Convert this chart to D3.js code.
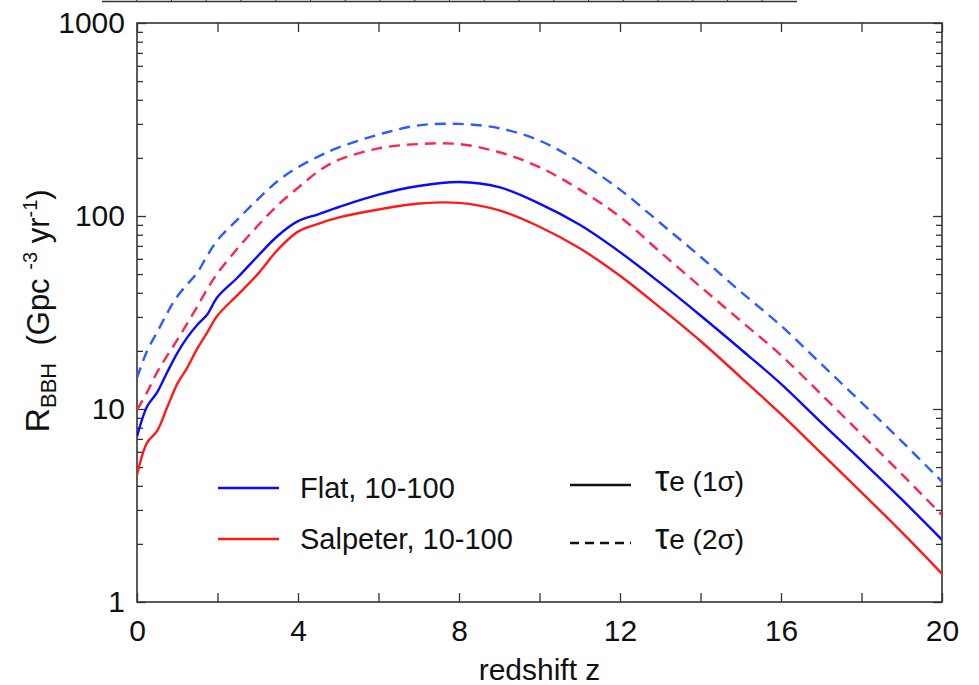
<!DOCTYPE html>
<html>
<head>
<meta charset="utf-8">
<script src="https://cdn.jsdelivr.net/npm/d3@7"></script>
<style>
  body { margin: 0; background: #fff; }
  svg text { font-family: 'Liberation Sans', Arial, Helvetica, sans-serif; fill: #111; white-space: pre; }
</style>
</head>
<body>
<div id="chart"></div>
<script>
// redshift grid shared by all four curves
const redshift = [0, 0.25, 0.5, 0.75, 1, 1.25, 1.5, 1.75, 2, 2.5, 3, 3.5, 4, 4.5, 5,
  6, 7, 8, 9, 10, 11, 12, 13, 14, 15, 16, 17, 18, 19, 20];

// R_BBH (Gpc^-3 yr^-1)
const flat1sigma = [7.2, 10.3, 12.2, 15.5, 19.5, 23.5, 27.3, 31, 38, 48, 62, 79, 94, 102, 111,
  129, 143, 150, 141, 116, 90, 65, 45, 30.5, 20.4, 13.5, 8.5, 5.4, 3.4, 2.1];
const salpeter1sigma = [4.55, 6.7, 7.7, 10.2, 13.5, 16.4, 20.6, 25, 30.5, 39, 50, 67, 83, 91, 98,
  108, 116, 117, 107, 88, 68, 49, 33.5, 22.5, 14.6, 9.4, 5.9, 3.7, 2.3, 1.4];
const flat2sigma = [14.5, 20, 25, 31.4, 38.3, 44.3, 51, 62.5, 75, 96, 122, 152, 179, 203, 226,
  264, 295, 300, 285, 246, 190, 137, 92, 61.5, 40.5, 27, 17.1, 10.8, 6.8, 4.2];
const salpeter2sigma = [9.9, 12.2, 15.5, 18.9, 22.8, 27.8, 34, 42, 50.5, 68, 89, 114, 140, 170, 195,
  224, 236, 236, 214, 179, 137, 99, 65, 43, 28.6, 19, 11.9, 7.4, 4.6, 2.82];

const xLabelTicks = [0, 4, 8, 12, 16, 20];
const xMinorTicks = [2, 6, 10, 14, 18];
const yDecades = [1, 10, 100, 1000];

const series = [
  { name: 'flat2', values: flat2sigma, color: '#2a5cff', dashed: true },
  { name: 'salp2', values: salpeter2sigma, color: '#ff2448', dashed: true },
  { name: 'flat1', values: flat1sigma, color: '#0a0aff', dashed: false },
  { name: 'salp1', values: salpeter1sigma, color: '#ff1a1a', dashed: false },
];

const config = {
  containerWidth: 979,
  containerHeight: 685,
  margin: {
    top: 23, right: 37, bottom: 83, left: 137,
  },
};
config.width = config.containerWidth - config.margin.left - config.margin.right;
config.height = config.containerHeight - config.margin.top - config.margin.bottom;

const svg = d3.select('#chart').append('svg')
  .attr('width', config.containerWidth)
  .attr('height', config.containerHeight);

// bottom edge of the panel above, cut off by the crop
const prevScale = d3.scaleLinear().domain([0, 20]).range([102, 797]);
svg.append('line')
  .attr('x1', prevScale(0))
  .attr('x2', prevScale(20))
  .attr('y1', 1.5)
  .attr('y2', 1.5)
  .attr('stroke', '#333')
  .attr('stroke-width', 1.5);
svg.selectAll('.prev-tick')
  .data(d3.range(1, 20))
  .join('line')
  .attr('class', 'prev-tick')
  .attr('x1', (d) => prevScale(d))
  .attr('x2', (d) => prevScale(d))
  .attr('y1', 0)
  .attr('y2', 2)
  .attr('stroke', '#333');

const chart = svg.append('g')
  .attr('transform', `translate(${config.margin.left},${config.margin.top})`);

const xScale = d3.scaleLinear()
  .domain([0, 20])
  .range([0, config.width]);

const yScale = d3.scaleLog()
  .domain([1, 1000])
  .range([config.height, 0]);

const yMinor = [];
[1, 10, 100].forEach((base) => {
  for (let k = 2; k <= 9; k += 1) yMinor.push(base * k);
});

// axes, all ticks point into the plot
const styleAxis = (g) => {
  g.select('.domain').remove();
  g.selectAll('.tick line').attr('stroke', '#333').attr('stroke-width', 1.3);
  g.selectAll('.tick text')
    .attr('font-size', 30)
    .attr('fill', '#111');
};

chart.append('g')
  .attr('transform', `translate(0,${config.height})`)
  .call(d3.axisBottom(xScale).tickValues(xLabelTicks).tickSize(-9).tickSizeOuter(0).tickPadding(18)
    .tickFormat(d3.format('d')))
  .call(styleAxis);
chart.append('g')
  .attr('transform', `translate(0,${config.height})`)
  .call(d3.axisBottom(xScale).tickValues(xMinorTicks).tickSize(-9).tickSizeOuter(0).tickFormat(''))
  .call(styleAxis);
chart.append('g')
  .call(d3.axisTop(xScale).tickValues(xLabelTicks.concat(xMinorTicks)).tickSize(-9).tickSizeOuter(0).tickFormat(''))
  .call(styleAxis);

chart.append('g')
  .call(d3.axisLeft(yScale).tickValues(yDecades).tickSize(-9).tickSizeOuter(0).tickPadding(12)
    .tickFormat(d3.format('d')))
  .call(styleAxis);
chart.append('g')
  .call(d3.axisLeft(yScale).tickValues(yMinor).tickSize(-6).tickSizeOuter(0).tickFormat(''))
  .call(styleAxis);
chart.append('g')
  .attr('transform', `translate(${config.width},0)`)
  .call(d3.axisRight(yScale).tickValues(yDecades).tickSize(-9).tickSizeOuter(0).tickFormat(''))
  .call(styleAxis);
chart.append('g')
  .attr('transform', `translate(${config.width},0)`)
  .call(d3.axisRight(yScale).tickValues(yMinor).tickSize(-6).tickSizeOuter(0).tickFormat(''))
  .call(styleAxis);

chart.append('rect')
  .attr('width', config.width)
  .attr('height', config.height)
  .attr('fill', 'none')
  .attr('stroke', '#333')
  .attr('stroke-width', 1.6);

// curves
const line = d3.line()
  .x((d) => xScale(d[0]))
  .y((d) => yScale(d[1]))
  .curve(d3.curveCatmullRom.alpha(0.5));

chart.append('defs').append('clipPath')
  .attr('id', 'clip')
  .append('rect')
  .attr('width', config.width)
  .attr('height', config.height);

chart.append('g')
  .attr('clip-path', 'url(#clip)')
  .selectAll('.curve')
  .data(series)
  .join('path')
  .attr('class', 'curve')
  .attr('d', (s) => line(redshift.map((z, i) => [z, s.values[i]])))
  .attr('fill', 'none')
  .attr('stroke', (s) => s.color)
  .attr('stroke-width', 2.4)
  .attr('stroke-dasharray', (s) => (s.dashed ? '11,7' : null));

// legend
const legend = svg.append('g');
const legendRows = [
  { label: 'Flat, 10-100', color: '#0a0aff', y: 488 },
  { label: 'Salpeter, 10-100', color: '#ff1a1a', y: 539 },
];
legendRows.forEach((r) => {
  legend.append('line')
    .attr('x1', 218).attr('x2', 279)
    .attr('y1', r.y).attr('y2', r.y)
    .attr('stroke', r.color)
    .attr('stroke-width', 2.4);
  legend.append('text')
    .attr('x', 300)
    .attr('y', r.y)
    .attr('dy', '0.36em')
    .attr('font-size', 29)
    .text(r.label);
});

const styleRows = [
  { label: '(1σ)', dash: null, y: 485 },
  { label: '(2σ)', dash: '9,6', y: 543 },
];
styleRows.forEach((r) => {
  legend.append('line')
    .attr('x1', 570).attr('x2', 631)
    .attr('y1', r.y).attr('y2', r.y)
    .attr('stroke', '#111')
    .attr('stroke-width', 2.4)
    .attr('stroke-dasharray', r.dash);
  const t = legend.append('text')
    .attr('x', 655)
    .attr('y', r.y)
    .attr('dy', '0.36em');
  t.append('tspan').attr('font-size', 36).text('τ');
  t.append('tspan').attr('font-size', 28).text('e ');
  t.append('tspan').attr('font-size', 28).text(r.label);
});

// axis titles
svg.append('text')
  .attr('x', config.margin.left + config.width / 2)
  .attr('y', 680)
  .attr('text-anchor', 'middle')
  .attr('font-size', 30)
  .text('redshift z');

const yTitle = svg.append('text')
  .attr('transform', 'translate(49,311) rotate(-90)')
  .attr('text-anchor', 'middle');
yTitle.append('tspan').attr('font-size', 34).text('R');
yTitle.append('tspan').attr('font-size', 22).attr('dy', 7).text('BBH');
yTitle.append('tspan').attr('font-size', 31).attr('dy', -7).text('  (Gpc ');
yTitle.append('tspan').attr('font-size', 20).attr('dy', -12).text('-3');
yTitle.append('tspan').attr('font-size', 31).attr('dy', 12).text(' yr');
yTitle.append('tspan').attr('font-size', 20).attr('dy', -12).text('-1');
yTitle.append('tspan').attr('font-size', 31).attr('dy', 12).text(')');
</script>
</body>
</html>
